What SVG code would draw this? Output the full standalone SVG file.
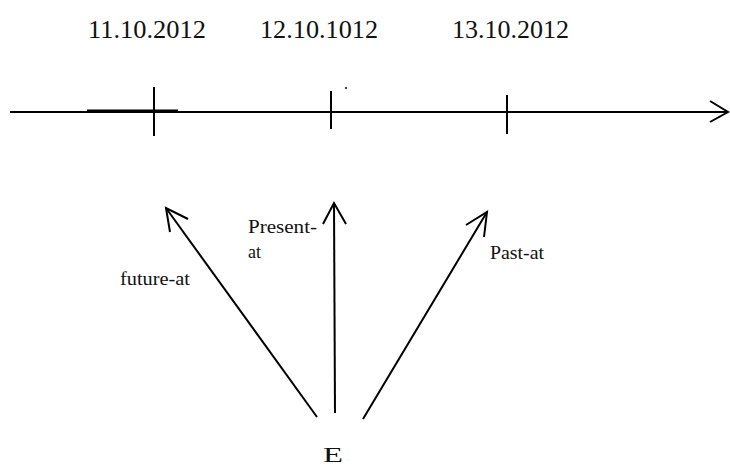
<svg xmlns="http://www.w3.org/2000/svg" width="730" height="469" viewBox="0 0 730 469">
<style>
.ln{stroke:#000;stroke-width:2;fill:none;stroke-linecap:butt}
.d{font-size:26px}
.l{font-size:18px}
</style>
<rect width="730" height="469" fill="#fff"/>
<g font-family="'Liberation Serif', 'DejaVu Serif', serif" fill="#111">
<g id="dates">
<text class="d" x="88" y="38" textLength="118" lengthAdjust="spacingAndGlyphs">11.10.2012</text>
<text class="d" x="260" y="38" textLength="118" lengthAdjust="spacingAndGlyphs">12.10.1012</text>
<text class="d" x="452" y="38" textLength="117" lengthAdjust="spacingAndGlyphs">13.10.2012</text>
</g>
<g id="labels">
<text class="l" x="248" y="233" textLength="69" lengthAdjust="spacingAndGlyphs">Present-</text>
<text class="l" x="248" y="258">at</text>
<text class="l" x="120" y="285" textLength="70" lengthAdjust="spacingAndGlyphs">future-at</text>
<text class="l" x="490" y="259" textLength="54" lengthAdjust="spacingAndGlyphs">Past-at</text>
</g>
<g id="E">
<text x="323" y="462" font-size="22" textLength="20" lengthAdjust="spacingAndGlyphs">E</text>
</g>
</g>
<g id="timeline">
<line class="ln" x1="10" y1="112" x2="727" y2="112"/>
<line class="ln" x1="87" y1="110.5" x2="178" y2="110.5" stroke-width="3"/>
<polyline class="ln" points="710,101 728,112 710,122"/>
<line class="ln" x1="154" y1="87" x2="154" y2="136"/>
<line class="ln" x1="331" y1="91" x2="331" y2="129"/>
<line class="ln" x1="507" y1="95" x2="507" y2="134"/>
<circle cx="346" cy="88" r="1" fill="#000"/>
</g>
<g id="connectors">
<line class="ln" x1="317" y1="417" x2="166" y2="208"/>
<polyline class="ln" points="170,232 166,208 188,219"/>
<line class="ln" x1="335" y1="413" x2="334" y2="203"/>
<polyline class="ln" points="323,224 334,203 346,224"/>
<line class="ln" x1="363" y1="419" x2="487" y2="212"/>
<polyline class="ln" points="466,225 487,212 484,237"/>
</g>
</svg>
